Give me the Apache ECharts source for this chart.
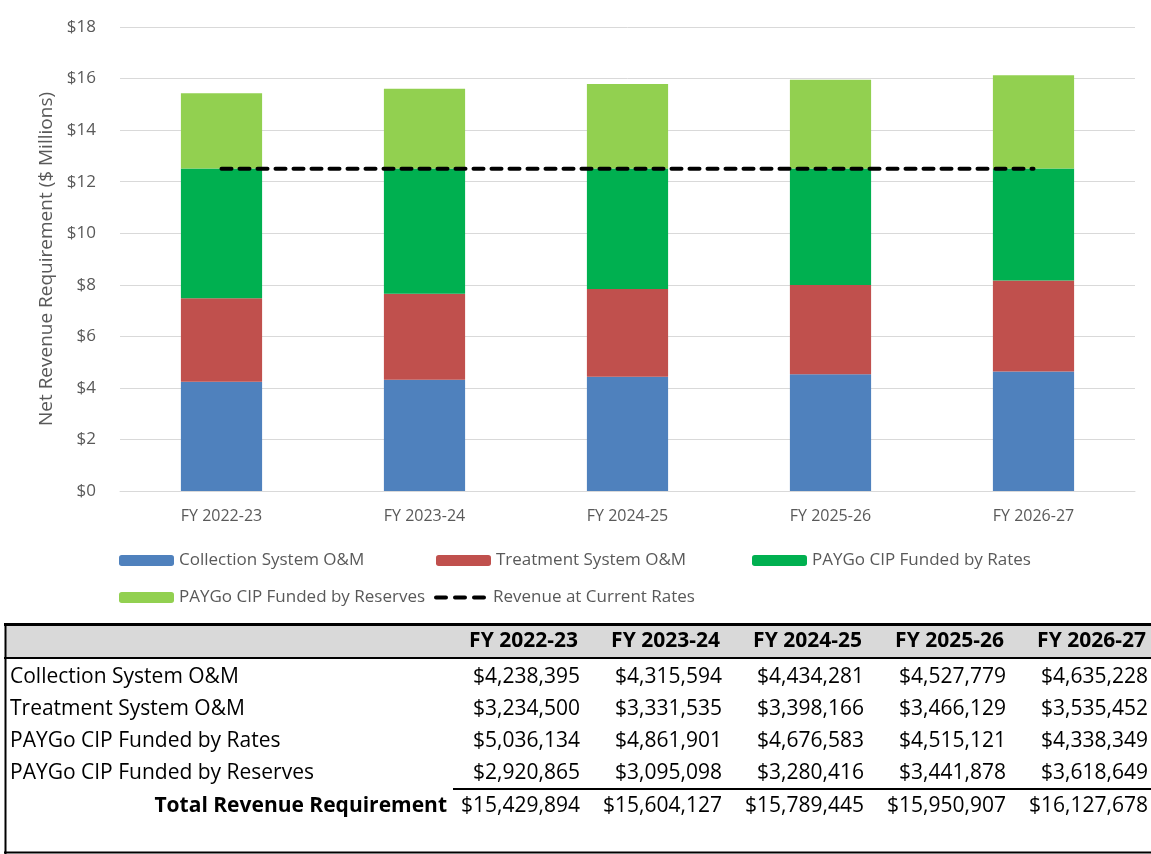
<!DOCTYPE html>
<html>
<head>
<meta charset="utf-8">
<script src="https://cdn.jsdelivr.net/npm/echarts@6/dist/echarts.min.js"></script>
<style>
html,body{margin:0;padding:0;background:#fff;}
#chart{width:1151px;height:854px;}
</style>
</head>
<body>
<div id="chart"></div>
<script>
// ---- Data ----
const years = ['FY 2022-23', 'FY 2023-24', 'FY 2024-25', 'FY 2025-26', 'FY 2026-27'];
const rowLabels = ['Collection System O&M', 'Treatment System O&M', 'PAYGo CIP Funded by Rates', 'PAYGo CIP Funded by Reserves'];
const collection = [4238395, 4315594, 4434281, 4527779, 4635228];
const treatment = [3234500, 3331535, 3398166, 3466129, 3535452];
const paygoRates = [5036134, 4861901, 4676583, 4515121, 4338349];
const paygoReserves = [2920865, 3095098, 3280416, 3441878, 3618649];
const totals = [15429894, 15604127, 15789445, 15950907, 16127678];
const currentRates = [12.5, 12.5, 12.5, 12.5, 12.5]; // $ millions
const lineName = 'Revenue at Current Rates';
const totalLabel = 'Total Revenue Requirement';
const yAxisTitle = 'Net Revenue Requirement ($ Millions)';

const FONT = 'Open Sans';
const GREY = '#595959';
const colors = ['#4f81bd', '#c0504d', '#00b050', '#92d050'];
const seriesVals = [collection, treatment, paygoRates, paygoReserves];

const fmt = v => '$' + v.toLocaleString('en-US');

const chart = echarts.init(document.getElementById('chart'), null, {renderer: 'canvas'});

const barSeries = rowLabels.map((name, i) => ({
  name: name,
  type: 'bar',
  stack: 'total',
  barWidth: '40%',
  itemStyle: {color: colors[i]},
  emphasis: {disabled: true},
  data: seriesVals[i].map(v => v / 1e6)
}));

const lineSeries = {
  name: lineName,
  type: 'line',
  symbol: 'none',
  z: 5,
  lineStyle: {color: '#000', width: 4, type: [10, 8], cap: 'round'},
  itemStyle: {color: '#000'},
  data: currentRates
};

// ---- Table (graphic) ----
const colRight = [580, 722, 864, 1006, 1148];
const headerY = 641;
const rowY = [677, 709, 741, 773];
const totalY = 806;
const elements = [];
elements.push({type: 'rect', shape: {x: 5, y: 625, width: 1146, height: 33}, style: {fill: '#d9d9d9'}, silent: true});
elements.push({type: 'line', shape: {x1: 4, y1: 624.5, x2: 1151, y2: 624.5}, style: {stroke: '#000', lineWidth: 3}, silent: true});
elements.push({type: 'line', shape: {x1: 4, y1: 658, x2: 1151, y2: 658}, style: {stroke: '#000', lineWidth: 2}, silent: true});
elements.push({type: 'line', shape: {x1: 5.5, y1: 623, x2: 5.5, y2: 854}, style: {stroke: '#000', lineWidth: 2}, silent: true});
elements.push({type: 'line', shape: {x1: 4, y1: 852.5, x2: 1151, y2: 852.5}, style: {stroke: '#000', lineWidth: 2}, silent: true});
elements.push({type: 'line', shape: {x1: 453, y1: 789, x2: 1151, y2: 789}, style: {stroke: '#000', lineWidth: 2}, silent: true});
years.forEach((y, j) => {
  elements.push({type: 'text', x: colRight[j] - 2, y: headerY, silent: true,
    style: {text: y, font: 'bold 21px "' + FONT + '"', fill: '#000', align: 'right', verticalAlign: 'middle'}});
});
rowLabels.forEach((lab, i) => {
  elements.push({type: 'text', x: 10, y: rowY[i], silent: true,
    style: {text: lab, font: '21px "' + FONT + '"', fill: '#000', align: 'left', verticalAlign: 'middle'}});
  seriesVals[i].forEach((v, j) => {
    elements.push({type: 'text', x: colRight[j], y: rowY[i], silent: true,
      style: {text: fmt(v), font: '21px "' + FONT + '"', fill: '#000', align: 'right', verticalAlign: 'middle'}});
  });
});
elements.push({type: 'text', x: 447, y: totalY, silent: true,
  style: {text: totalLabel, font: 'bold 21px "' + FONT + '"', fill: '#000', align: 'right', verticalAlign: 'middle'}});
totals.forEach((v, j) => {
  elements.push({type: 'text', x: colRight[j], y: totalY, silent: true,
    style: {text: fmt(v), font: '21px "' + FONT + '"', fill: '#000', align: 'right', verticalAlign: 'middle'}});
});

const legendBase = {
  itemWidth: 55, itemHeight: 11, itemGap: 0, padding: 0,
  textStyle: {fontFamily: FONT, fontSize: 17, color: GREY},
  selectedMode: false
};
const legendPos = [
  {name: rowLabels[0], left: 119, top: 552},
  {name: rowLabels[1], left: 436, top: 552},
  {name: rowLabels[2], left: 752, top: 552},
  {name: rowLabels[3], left: 119, top: 589},
  {name: lineName, left: 434, top: 589, line: true}
];

const option = {
  backgroundColor: '#fff',
  animation: false,
  textStyle: {fontFamily: FONT},
  grid: {left: 120, right: 16, top: 27, bottom: 363, containLabel: false},
  legend: legendPos.map(p => {
    const l = Object.assign({}, legendBase, {data: [p.name], left: p.left, top: p.top});
    if (p.line) {
      l.itemWidth = 52;
      l.itemStyle = {color: 'rgba(0,0,0,0)', borderWidth: 0};
      l.lineStyle = {color: '#000', width: 4, type: [10, 9], cap: 'round'};
    }
    return l;
  }),
  xAxis: {
    type: 'category',
    data: years,
    axisLine: {show: true, lineStyle: {color: '#d9d9d9', width: 1}},
    axisTick: {show: false},
    axisLabel: {fontFamily: FONT, fontSize: 16, color: GREY, margin: 17}
  },
  yAxis: {
    type: 'value',
    min: 0, max: 18, interval: 2,
    name: yAxisTitle,
    nameLocation: 'middle',
    nameGap: 64,
    nameTextStyle: {fontFamily: FONT, fontSize: 19, color: GREY},
    axisLine: {show: false},
    axisTick: {show: false},
    splitLine: {lineStyle: {color: '#d9d9d9', width: 1}},
    axisLabel: {fontFamily: FONT, fontSize: 17, color: GREY, margin: 24, formatter: v => '$' + v}
  },
  series: barSeries.concat([lineSeries]),
  graphic: {elements: elements}
};
chart.setOption(option);
</script>
</body>
</html>
